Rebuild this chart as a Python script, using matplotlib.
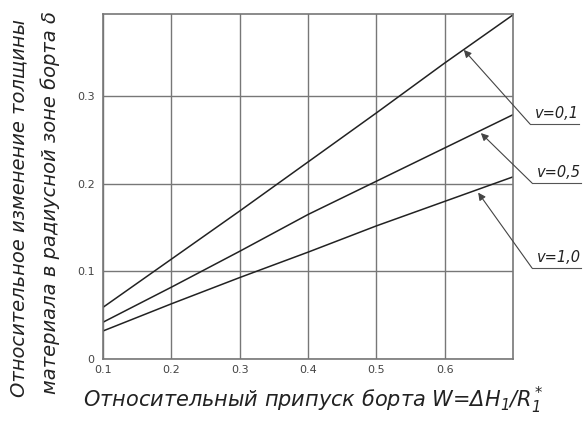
import matplotlib
matplotlib.use("Agg")
import matplotlib.pyplot as plt

plt.rcParams['mathtext.fontset'] = 'custom'
plt.rcParams['mathtext.rm'] = 'DejaVu Sans:italic'
plt.rcParams['mathtext.it'] = 'DejaVu Sans:italic'

# values
w = [0.1, 0.2, 0.3, 0.4, 0.5, 0.6, 0.7]
delta_v01 = [0.059, 0.114, 0.169, 0.225, 0.281, 0.338, 0.393]
delta_v05 = [0.042, 0.082, 0.123, 0.165, 0.203, 0.241, 0.279]
delta_v10 = [0.032, 0.063, 0.093, 0.122, 0.152, 0.180, 0.208]

labels = ['v=0,1', 'v=0,5', 'v=1,0']
arrow_tips = [(0.628, 0.353), (0.653, 0.258), (0.649, 0.190)]

xticks = [0.1, 0.2, 0.3, 0.4, 0.5, 0.6]
yticks = [0, 0.1, 0.2, 0.3]

font = dict(family='DejaVu Sans', style='italic')

fig = plt.figure(figsize=(5.86, 4.22), dpi=100)
ax = fig.add_axes([103 / 586, 1 - 359 / 422, 410 / 586, 345 / 422])

for ys in (delta_v01, delta_v05, delta_v10):
    ax.plot(w, ys, color='#222222', linewidth=1.1)

ax.set_xlim(0.1, 0.7)
ax.set_ylim(0, 0.394)
ax.set_xticks(xticks)
ax.set_yticks(yticks)
ax.set_xticklabels([f'{t:g}' for t in xticks])
ax.set_yticklabels([f'{t:g}' for t in yticks])
ax.grid(True, color='#777777', linewidth=1.0)
for s in ax.spines.values():
    s.set_color('#777777')
    s.set_linewidth(1.2)
ax.tick_params(length=0, labelsize=8, colors='#444444')
ax.tick_params(axis='y', pad=6)
ax.tick_params(axis='x', pad=4)

# leader lines with labels to the right of the plot
label_pos = [(530, 124), (532, 183), (532, 268)]
for lab, tip, (px, py) in zip(labels, arrow_tips, label_pos):
    ax.annotate('', xy=tip, xycoords='data',
                xytext=(px / 586, 1 - py / 422), textcoords='figure fraction',
                arrowprops=dict(arrowstyle='-|>', color='#444444', lw=0.8,
                                shrinkA=0, shrinkB=0, mutation_scale=11),
                annotation_clip=False)
    fig.lines.append(plt.Line2D([px / 586, (px + 49) / 586],
                                [1 - py / 422, 1 - py / 422],
                                transform=fig.transFigure, color='#555555', lw=0.8))
    fig.text((px + 5) / 586, 1 - (py - 3) / 422, lab, fontsize=10.5,
             ha='left', va='bottom', color='#222222', **font)

fig.text(19 / 586, 1 - 208 / 422, 'Относительное изменение толщины', rotation=90,
         ha='center', va='center', fontsize=14, color='#222222', **font)
fig.text(50 / 586, 1 - 203 / 422, 'материала в радиусной зоне борта δ', rotation=90,
         ha='center', va='center', fontsize=14, color='#222222', **font)
fig.text(313 / 586, 1 - 400 / 422, 'Относительный припуск борта W=ΔH$_1$/R$_1^*$',
         ha='center', va='center', fontsize=15, color='#222222', **font)

fig.savefig('out.png', dpi=100)
